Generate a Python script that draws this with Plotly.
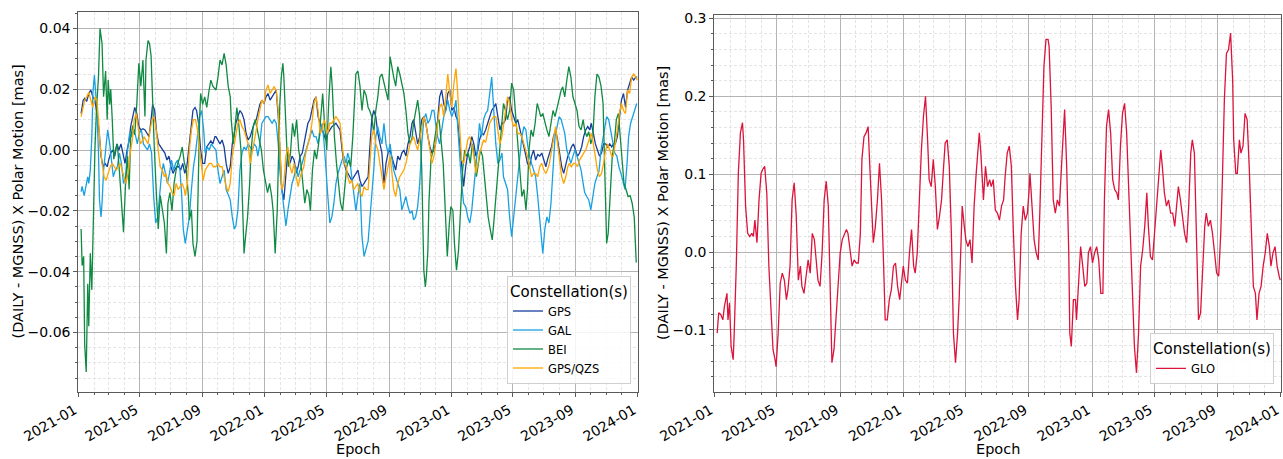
import pandas as pd
import plotly.graph_objects as go

# ---------------- data: (days since 2021-01-01, value in mas) ----------------
EPOCH0 = "2021-01-01"

gps = [(5,0.012),(9,0.0164),(12,0.017),(16,0.016),(20,0.0186),(24,0.0197),(28,0.0175),(32,0.0164),(36,0.012),(40,0.0066),(44,-0.002),(48,-0.0055),(52,-0.0044),(56,-0.0055),(59,-0.0033),(63,-0.001),(67,0.0),(71,-0.002),(75,0.002),(79,0.0),(83,0.002),(87,-0.001),(91,-0.0044),(95,0.0),(99,0.003),(102,0.0077),(106,0.011),(110,0.014),(114,0.012),(118,0.0077),(122,0.0066),(126,0.007),(130,0.0066),(134,0.0055),(138,0.0044),(142,0.010),(145,0.015),(149,0.013),(153,0.0055),(157,0.002),(161,0.001),(165,0.0),(169,-0.001),(173,-0.0033),(177,-0.002),(181,-0.0055),(185,-0.0077),(188,-0.0066),(192,-0.0055),(196,-0.0055),(200,-0.0066),(204,-0.0044),(208,-0.0077),(212,-0.0055),(216,0.001),(220,0.0088),(224,0.013),(228,0.014),(231,0.013),(235,0.0088),(239,0.0),(243,-0.0044),(247,-0.0044),(251,0.001),(255,0.002),(259,0.003),(263,0.002),(267,0.0044),
       (269,0.0044),(273,0.0033),(277,0.002),(281,0.0033),(285,0.001),(289,-0.0044),(293,-0.0077),(297,-0.0055),(301,0.002),(305,0.0055),(308,0.0088),(312,0.011),(316,0.013),(320,0.012),(324,0.010),(328,0.0055),(332,0.0033),(336,0.0044),(340,0.0066),(344,0.0088),(348,0.010),(351,0.012),(355,0.015),(359,0.0164),(363,0.0153),(367,0.0175),(371,0.0186),(375,0.0164),(379,0.0175),(383,0.0186),(387,0.0197),(391,0.011),(394,-0.001),(398,-0.013),(402,-0.0164),(406,-0.0066),(410,0.0),(414,-0.0044),(418,-0.002),(422,-0.0033),(426,-0.0077),(430,-0.0055),(434,-0.002),(438,-0.001),(441,0.002),(445,0.0055),(449,0.0088),(453,0.010),(457,0.013),(461,0.0164),(465,0.0175),(469,0.011),(473,0.0088),(477,0.0066),(481,0.0044),(484,0.0033),(488,0.0055),(492,0.0066),(496,0.0077),(500,0.0082),(504,0.0088),(508,0.0077),(512,0.0066),(516,0.0),(520,-0.0044),(524,-0.0066),(527,-0.0077),(531,-0.0088),(535,-0.010),(539,-0.0088),
       (547,-0.0066),(551,-0.010),(555,-0.012),(559,-0.011),(563,-0.010),(567,-0.0088),(570,0.0),(574,0.010),(578,0.013),(582,0.011),(586,0.0055),(590,0.002),(594,-0.001),(598,-0.011),(602,-0.0044),(606,-0.001),(610,0.0),(613,-0.002),(617,-0.0044),(621,-0.0066),(625,-0.002),(629,-0.0033),(633,-0.001),(637,0.0),(641,-0.002),(645,0.002),(649,0.0044),(653,0.0088),(656,0.010),(660,0.0066),(664,0.002),(668,0.0044),(672,0.010),(676,0.011),(680,0.0088),(684,0.0044),(688,0.001),(692,-0.001),(696,0.0),(699,0.002),(703,0.010),(707,0.0175),(711,0.0197),(715,0.0153),(719,0.013),(723,0.0186),(727,0.0197),(731,0.013),(735,0.014),(739,0.011),(742,0.010),(746,0.002),(750,-0.0044),(754,-0.012),(758,-0.0055),(762,-0.001),(766,0.001),(770,0.0044),(774,0.002),(778,-0.002),(782,0.0),(785,0.0033),(789,0.0055),(793,0.005),(797,0.0066),(801,0.0088),(805,0.011),(809,0.013),(813,0.014),
       (817,0.0153),(821,0.011),(825,0.0066),(829,0.0088),(832,0.0088),(836,0.010),(840,0.0164),(844,0.0175),(848,0.013),(852,0.011),(856,0.0088),(860,0.010),(864,0.0066),(868,0.0033),(872,0.001),(876,-0.002),(879,-0.0044),(883,-0.0055),(887,-0.002),(891,0.0),(895,-0.0033),(899,-0.0015),(903,-0.002),(907,-0.001),(911,-0.0033),(915,-0.0055),(918,-0.0033),(922,-0.001),(926,0.001),(930,0.0044),(934,0.0066),(938,0.0033),(942,-0.002),(946,-0.0055),(950,-0.0077),(954,-0.0044),(958,-0.002),(961,-0.001),(965,0.001),(969,0.002),(973,0.0),(977,-0.002),(981,-0.001),(985,0.001),(989,0.0044),(993,0.0066),(997,0.0077),(1001,0.0066),(1004,0.0088),(1008,0.0055),(1012,0.002),(1016,0.0),(1020,-0.002),(1024,-0.001),(1028,0.002),(1032,0.002),(1036,0.001),(1040,0.002),(1044,0.001),(1047,0.002),(1051,0.002),(1055,0.0044),(1059,0.010),(1063,0.0164),(1067,0.0186),(1071,0.014),(1075,0.0197),(1079,0.022),(1083,0.024),(1087,0.023),(1091,0.024),(1094,0.024)]

gal = [(5,-0.0137),(7,-0.012),(11,-0.015),(15,-0.011),(18,-0.0088),(20,-0.011),(23,-0.0066),(26,0.0044),(28,0.0186),(31,0.0247),(33,0.021),(36,0.013),(39,-0.001),(41,-0.0164),(44,-0.022),(46,-0.0175),(49,-0.0066),(53,0.0),(57,0.0066),(61,0.002),(65,-0.0055),(68,-0.0088),(72,-0.0066),(76,-0.0055),(80,-0.001),(84,-0.0044),(88,-0.011),(92,-0.0088),(96,0.0),(100,0.0055),(104,0.0044),(108,0.0066),(112,0.0044),(115,0.002),(119,0.0055),(123,0.0066),(127,0.002),(131,0.001),(135,0.0),(139,0.002),(143,-0.001),(147,-0.015),(151,-0.024),(155,-0.022),(158,-0.0164),(162,-0.0088),(166,-0.0044),(170,-0.0077),(174,-0.011),(178,-0.0077),(182,-0.0033),(186,-0.0066),(190,-0.0044),(194,-0.0033),(198,-0.0055),(202,-0.015),(205,-0.026),(209,-0.0307),(213,-0.026),(217,-0.022),(221,-0.013),(225,-0.0055),(229,-0.001),(233,0.0044),(237,0.011),(241,0.013),(245,0.0066),(248,-0.001),(252,0.001),(256,0.0),(260,0.002),(264,0.001),
       (269,0.0),(273,-0.0066),(277,-0.011),(281,-0.0088),(285,-0.0066),(289,-0.013),(293,-0.015),(297,-0.0164),(301,-0.022),(305,-0.026),(308,-0.025),(312,-0.0197),(316,-0.0066),(320,-0.001),(324,0.001),(328,0.0),(332,0.002),(336,0.001),(340,0.0),(344,0.002),(348,0.001),(351,-0.002),(355,0.002),(359,0.0088),(363,0.010),(367,0.011),(371,0.011),(375,0.010),(379,0.0088),(383,0.010),(387,0.0088),(391,0.002),(394,-0.0066),(398,-0.013),(402,-0.0186),(406,-0.025),(410,-0.0197),(414,-0.015),(418,-0.011),(422,-0.0088),(426,-0.0055),(430,-0.0088),(434,-0.0066),(438,-0.0044),(441,-0.002),(445,0.0),(449,0.002),(453,0.0044),(457,0.0066),(461,0.0044),(465,0.0044),(469,0.002),(473,0.0055),(477,0.0088),(481,0.002),(484,-0.0066),(488,-0.015),(492,-0.024),(496,-0.022),(500,-0.0175),(504,-0.011),(508,-0.0077),(512,-0.0055),(516,-0.0033),(520,-0.002),(524,-0.0044),(527,-0.001),(531,-0.0033),(535,-0.0088),(539,-0.015),(543,-0.020),(547,-0.015),(551,-0.011),(555,-0.0285),(559,-0.035),
       (567,-0.030),(570,-0.024),(574,-0.015),(578,-0.0066),(582,0.0044),(586,0.0077),(590,0.0044),(594,0.002),(598,0.0088),(602,0.002),(606,-0.001),(610,0.002),(613,-0.002),(617,-0.0066),(621,-0.0088),(625,-0.011),(629,-0.013),(633,-0.0197),(637,-0.0175),(641,-0.0153),(645,-0.0186),(649,-0.0208),(653,-0.020),(656,-0.023),(660,-0.022),(664,-0.0186),(668,-0.011),(672,0.002),(676,0.010),(680,0.012),(684,0.0088),(688,0.010),(692,0.013),(696,0.013),(699,0.0088),(703,0.0044),(707,0.002),(711,0.0066),(715,0.011),(719,0.013),(723,0.0164),(727,0.013),(731,0.011),(735,0.013),(739,0.0164),(742,0.0088),(746,-0.002),(750,-0.011),(754,-0.0175),(758,-0.0186),(762,-0.022),(766,-0.024),(770,-0.0197),(774,-0.013),(778,-0.0066),(782,0.002),(785,0.0088),(789,0.0044),(793,0.010),(797,0.012),(801,0.013),(805,0.0197),(809,0.024),
       (817,0.002),(821,-0.0044),(825,-0.0033),(829,-0.001),(832,-0.0088),(836,-0.011),(840,-0.013),(844,-0.022),(848,-0.0285),(852,-0.022),(856,-0.0153),(860,-0.0066),(864,-0.002),(868,0.0044),(872,0.0077),(876,0.0066),(879,0.002),(883,-0.002),(887,-0.0044),(891,-0.0066),(895,-0.0088),(899,-0.0153),(903,-0.024),(907,-0.0307),(909,-0.034),(913,-0.026),(917,-0.022),(921,-0.024),(925,-0.0175),(929,-0.0066),(933,0.0044),(937,0.0077),(941,0.011),(945,0.010),(948,0.0077),(952,0.0055),(956,0.0),(960,-0.002),(964,-0.0044),(968,-0.002),(972,0.0),(976,-0.002),(980,-0.0044),(984,-0.0066),(988,-0.011),(991,-0.014),(995,-0.0153),(999,-0.0164),(1003,-0.0197),(1007,-0.0153),(1011,-0.011),(1015,-0.0088),(1019,-0.007),(1023,0.0),(1027,0.0044),(1031,0.0088),(1034,0.011),(1038,0.010),(1042,0.0066),(1046,0.002),(1050,-0.001),(1054,-0.002),(1058,-0.0055),(1062,-0.0077),(1066,-0.010),(1070,-0.013),(1074,-0.0044),(1077,0.0044),(1081,0.0088),(1085,0.011),(1089,0.013),(1093,0.0153)]

bei = [(5,-0.026),(7,-0.038),(10,-0.035),(12,-0.064),(15,-0.073),(18,-0.044),(20,-0.058),(23,-0.034),(26,-0.046),(29,-0.0175),(32,0.0),(35,0.013),(39,0.024),(42,0.040),(46,0.035),(49,0.0175),(53,0.026),(56,0.010),(58,0.023),(61,0.015),(63,0.020),(66,0.010),(69,-0.003),(72,0.0),(76,0.002),(80,-0.007),(84,-0.0175),(88,-0.027),(92,-0.011),(96,-0.002),(99,-0.013),(102,0.004),(106,0.008),(110,0.005),(114,0.015),(118,0.0285),(122,0.021),(126,0.0296),(130,0.011),(132,0.0296),(136,0.036),(139,0.035),(142,0.031),(145,0.015),(148,0.002),(152,-0.013),(156,-0.026),(160,-0.015),(164,-0.019),(168,-0.024),(172,-0.034),(175,-0.0175),(179,-0.014),(183,-0.020),(187,-0.011),(191,-0.0066),(195,-0.004),(199,-0.002),(203,0.001),(207,-0.004),(211,-0.0066),(215,-0.015),(217,-0.023),(221,-0.0197),(224,-0.0307),(228,-0.035),(232,-0.030),(234,-0.009),(237,0.010),(239,0.0186),(243,0.015),(247,0.0175),(251,0.014),(255,0.019),(259,0.023),(263,0.021),(267,0.020),
       (269,0.0197),(273,0.024),(277,0.0296),(281,0.028),(285,0.0318),(289,0.028),(293,0.021),(297,0.0175),(299,0.010),(303,0.002),(307,0.0088),(310,0.014),(314,0.008),(318,0.0),(320,-0.012),(324,-0.034),(327,-0.0285),(331,-0.022),(335,-0.011),(338,0.0),(342,0.0077),(346,0.010),(350,0.0066),(354,0.003),(358,0.0),(362,-0.0066),(366,-0.011),(370,-0.014),(374,-0.011),(378,-0.015),(381,-0.020),(385,-0.034),(389,-0.020),(392,0.0),(394,0.015),(397,0.024),(400,0.0285),(402,0.024),(405,0.011),(408,0.0),(411,-0.0055),(415,-0.001),(419,0.0088),(423,0.0044),(427,0.010),(431,0.0),(435,-0.004),(439,-0.011),(443,-0.0175),(447,-0.013),(451,-0.015),(454,-0.020),(458,-0.0066),(462,0.0),(466,-0.003),(470,0.002),(474,0.012),(478,0.0186),(482,0.0077),(486,0.0),(490,0.0164),(494,0.0274),(497,0.020),(501,0.0044),(505,-0.0044),(509,-0.012),(513,-0.0175),(517,-0.020),(521,-0.013),(525,-0.0055),(529,-0.0033),(533,-0.0055),(537,0.0044),(540,0.013),
       (543,0.025),(547,0.026),(551,0.021),(555,0.013),(559,0.0197),(563,0.018),(567,0.014),(570,0.013),(574,0.011),(578,0.0055),(582,0.013),(586,0.0175),(590,0.024),(594,0.025),(598,0.022),(602,0.0197),(606,0.0164),(610,0.0307),(613,0.0274),(617,0.024),(621,0.021),(625,0.0274),(629,0.025),(633,0.022),(637,0.0186),(641,0.013),(645,0.0055),(649,0.002),(653,0.004),(656,0.0088),(660,0.013),(664,0.0164),(668,0.011),(672,-0.0066),(676,-0.0395),(679,-0.045),(681,-0.0416),(684,-0.033),(686,-0.0175),(690,-0.0033),(694,0.0),(698,0.0044),(702,0.0088),(706,0.010),(710,0.002),(714,-0.0044),(718,-0.0197),(722,-0.035),(726,-0.024),(729,-0.0186),(733,-0.020),(736,-0.0307),(740,-0.0395),(744,-0.033),(748,-0.0197),(752,-0.0066),(756,0.0),(759,-0.002),(763,-0.001),(767,-0.0044),(771,0.002),(775,-0.002),(779,-0.0088),(783,-0.0044),(787,0.0),(791,-0.002),(795,-0.0088),(798,-0.015),(802,-0.022),(806,-0.026),(810,-0.0296),(814,-0.022),
       (817,-0.0153),(821,-0.0066),(825,0.002),(829,0.010),(832,0.0153),(836,0.013),(840,0.010),(844,0.013),(848,0.022),(852,0.0197),(856,0.011),(860,0.0),(864,-0.0066),(868,-0.0153),(872,-0.013),(876,-0.0197),(879,-0.013),(882,0.0),(886,0.0066),(890,0.0044),(894,0.0088),(898,0.0153),(902,0.013),(905,0.011),(909,0.012),(913,0.0088),(917,0.0066),(921,0.0044),(925,0.0088),(929,0.013),(933,0.011),(937,0.014),(941,0.0175),(945,0.0197),(948,0.0208),(952,0.0175),(956,0.023),(960,0.0274),(964,0.024),(968,0.0175),(972,0.0153),(976,0.013),(980,0.0077),(984,0.0066),(988,0.010),(991,0.0066),(995,0.0044),(999,0.006),(1003,0.002),(1007,0.0044),(1011,0.0175),(1015,0.025),(1019,0.024),(1023,0.021),(1027,0.0153),(1031,-0.0088),(1034,-0.0307),(1037,-0.0274),(1041,-0.0153),(1045,-0.002),(1049,0.002),(1053,0.010),(1057,0.012),(1061,0.0044),(1064,-0.002),(1068,-0.011),(1072,-0.013),(1076,-0.0153),(1080,-0.015),(1084,-0.0175),(1088,-0.022),(1092,-0.037)]

qzs = [(5,0.011),(9,0.014),(12,0.0164),(16,0.0175),(20,0.019),(24,0.0164),(28,0.014),(32,0.0175),(36,0.0164),(39,0.010),(42,0.002),(46,-0.0044),(50,-0.0088),(54,-0.010),(58,-0.0077),(62,-0.0055),(66,-0.0044),(70,-0.0055),(74,-0.0066),(78,-0.0055),(82,-0.0044),(85,-0.0066),(89,-0.0088),(93,-0.011),(97,-0.0077),(101,-0.001),(105,0.003),(109,0.010),(113,0.012),(117,0.0066),(121,0.002),(125,0.003),(128,0.0044),(132,0.0033),(136,0.002),(140,0.0066),(144,0.010),(148,0.011),(152,0.0066),(156,0.0),(160,-0.0055),(164,-0.0066),(168,-0.0088),(171,-0.0077),(175,-0.011),(179,-0.012),(183,-0.014),(187,-0.015),(191,-0.011),(195,-0.013),(199,-0.012),(203,-0.011),(207,-0.013),(209,-0.015),(213,-0.011),(217,0.0),(221,0.0066),(225,0.010),(229,0.010),(233,0.0066),(237,0.0),(241,-0.0055),(244,-0.010),(248,-0.0066),(252,-0.0055),(256,-0.0044),(260,-0.0044),(264,-0.0055),
       (269,-0.0055),(273,-0.0044),(277,-0.0055),(281,-0.0055),(285,-0.0088),(289,-0.012),(293,-0.0137),(297,-0.011),(301,-0.002),(305,0.002),(308,0.0044),(312,0.0088),(316,0.010),(320,0.0077),(324,0.0066),(328,0.0044),(332,0.002),(336,-0.0044),(340,-0.001),(344,0.0033),(348,0.0066),(351,0.010),(355,0.013),(359,0.0164),(363,0.0153),(367,0.0197),(371,0.0214),(375,0.0186),(379,0.0197),(383,0.0208),(387,0.0197),(391,0.013),(394,0.002),(398,-0.013),(402,-0.011),(406,-0.002),(410,0.001),(414,-0.0055),(418,-0.0077),(422,-0.0044),(426,-0.0088),(430,-0.012),(434,-0.0088),(438,-0.0066),(441,-0.0055),(445,-0.001),(449,0.002),(453,0.0044),(457,0.0088),(461,0.0153),(465,0.0175),(469,0.013),(473,0.0055),(477,0.0066),(481,0.010),(484,0.0077),(488,0.0055),(492,0.0088),(496,0.0088),(500,0.010),(504,0.011),(508,0.010),(512,0.0088),(516,0.002),(520,-0.0044),(524,-0.0055),(527,-0.0088),(531,-0.011),(535,-0.010),(539,-0.013),
       (547,-0.011),(551,-0.014),(555,-0.0153),(559,-0.012),(563,-0.013),(567,-0.013),(570,-0.0055),(574,0.0044),(578,0.0066),(582,0.002),(586,0.0),(590,-0.0044),(594,-0.010),(598,-0.013),(602,-0.0088),(606,-0.0055),(610,-0.002),(613,-0.0066),(617,-0.013),(621,-0.0153),(625,-0.011),(629,-0.0088),(633,-0.0077),(637,-0.0066),(641,-0.0044),(645,-0.001),(649,0.002),(653,0.0033),(656,0.0044),(660,0.002),(664,0.0),(668,0.0033),(672,0.0077),(676,0.011),(680,0.0088),(684,0.0044),(688,-0.001),(692,-0.0044),(696,-0.002),(699,0.002),(703,0.0077),(707,0.014),(711,0.0153),(715,0.011),(719,0.0175),(723,0.025),(727,0.0186),(731,0.014),(735,0.022),(739,0.0268),(742,0.0197),(746,0.0066),(750,-0.0033),(754,-0.0044),(758,0.0),(762,0.0033),(766,0.0044),(770,0.002),(774,-0.002),(778,-0.0077),(782,-0.0044),(785,-0.001),(789,0.001),(793,0.0033),(797,0.0025),(801,0.0055),(805,0.0088),(809,0.010),(813,0.011),
       (817,0.011),(821,0.0066),(825,0.002),(829,0.0044),(832,0.0088),(836,0.013),(840,0.0175),(844,0.0153),(848,0.010),(852,0.0077),(856,0.0088),(860,0.0055),(864,0.0055),(868,0.0044),(872,0.002),(876,0.0),(879,-0.002),(883,-0.0055),(887,-0.0088),(891,-0.0077),(895,-0.0077),(899,-0.0088),(903,-0.0055),(907,-0.0044),(911,-0.0066),(915,-0.0077),(918,-0.0066),(922,-0.0044),(926,0.0),(930,0.0044),(934,0.0077),(938,0.002),(942,-0.0044),(946,-0.0088),(950,-0.011),(954,-0.0088),(958,-0.0055),(961,-0.0044),(965,-0.0055),(969,-0.0044),(973,-0.0044),(977,-0.0055),(981,-0.0033),(985,-0.002),(989,-0.001),(993,0.0),(997,0.002),(1001,0.0044),(1004,0.0055),(1008,0.002),(1012,-0.002),(1016,-0.0066),(1020,-0.0088),(1024,-0.0077),(1028,-0.0044),(1032,0.0),(1036,0.002),(1040,0.0),(1044,-0.002),(1047,-0.002),(1051,0.002),(1055,0.0066),(1059,0.012),(1063,0.0153),(1067,0.013),(1071,0.012),(1075,0.0197),(1079,0.0186),(1083,0.024),(1087,0.025),(1091,0.024),(1094,0.023)]

glo = [(5,-0.104),(8,-0.078),(12,-0.080),(16,-0.087),(19,-0.070),(21,-0.061),(24,-0.053),(26,-0.087),(29,-0.065),(32,-0.121),(36,-0.138),(38,-0.104),(42,-0.018),(46,0.101),(50,0.153),(54,0.166),(56,0.144),(60,0.059),(64,0.024),(68,0.020),(72,0.024),(75,0.020),(78,0.041),(82,0.012),(86,0.067),(90,0.101),(93,0.106),(97,0.110),(101,0.076),(105,-0.018),(109,-0.078),(113,-0.125),(117,-0.138),(119,-0.147),(123,-0.104),(127,-0.040),(131,-0.027),(135,-0.036),(139,-0.061),(142,-0.048),(146,-0.018),(150,0.067),(154,0.089),(158,0.046),(162,-0.036),(166,-0.018),(169,-0.044),(173,-0.053),(177,-0.031),(181,-0.010),(185,-0.027),(189,0.024),(193,0.016),(197,-0.018),(200,-0.036),(204,-0.044),(208,-0.001),(212,0.067),(216,0.091),(220,0.059),(224,-0.040),(227,-0.142),(231,-0.125),(235,-0.083),(239,-0.044),(243,-0.001),(247,0.016),(251,0.024),(255,0.029),(258,0.024),(262,-0.001),(266,-0.018),(270,-0.010),(274,-0.014),(278,-0.014),(282,0.024),(285,0.119),(289,0.148),(293,0.153),(297,0.161),(300,0.114),(303,0.059),(307,0.012),(311,0.033),(315,0.067),(319,0.114),(323,0.067),(327,-0.018),(330,-0.087),(334,-0.087),(338,-0.061),(342,-0.048),(346,-0.018),(350,-0.014),(354,-0.044),(358,-0.061),(361,-0.044),(365,-0.018),(369,-0.036),(373,-0.040),(377,-0.001),(381,0.029),(385,-0.018),(388,-0.027),(392,-0.001),(396,0.067),(400,0.131),(404,0.174),(408,0.200),(412,0.144),(415,0.093),(419,0.084),(423,0.119),(427,0.084),(431,0.029),(435,0.046),(439,0.067),(443,0.110),(446,0.140),(450,0.144),(454,0.110),(458,0.024),(462,-0.104),(466,-0.142),(470,-0.104),(473,-0.061),
       (479,0.059),(483,0.033),(486,0.016),(490,0.007),(494,0.016),(498,-0.014),(502,0.059),(506,0.101),(510,0.136),(512,0.153),(515,0.127),(517,0.101),(520,0.067),(524,0.110),(528,0.084),(532,0.093),(535,0.084),(539,0.093),(543,0.054),(547,0.050),(551,0.041),(555,0.059),(559,0.067),(562,0.097),(566,0.127),(570,0.136),(574,0.110),(578,0.024),(582,-0.044),(586,-0.087),(589,-0.061),(593,0.024),(597,0.059),(601,0.041),(605,0.050),(608,0.076),(610,0.101),(614,0.059),(618,0.016),(622,-0.001),(626,-0.010),(629,0.050),(633,0.153),(637,0.238),(641,0.273),(645,0.273),(647,0.264),(651,0.187),(655,0.067),(659,0.050),(663,0.067),(667,0.059),(671,0.110),(675,0.161),(677,0.183),(681,0.110),(685,-0.001),(687,-0.104),(690,-0.121),(694,-0.061),(698,-0.061),(700,-0.087),(704,-0.044),(708,0.007),(712,-0.018),(716,-0.044),(720,-0.040),(723,-0.001),(727,0.007),(731,-0.014),(735,-0.001),(739,0.007),(743,-0.010),(747,-0.053),(751,-0.053),(754,0.067),(758,0.161),(762,0.183),(766,0.153),(770,0.093),(774,0.080),(778,0.076),(781,0.067),(785,0.136),(789,0.178),(793,0.191),(797,0.153),(801,0.076),(805,-0.001),(808,-0.044),(812,-0.121),(816,-0.155),(820,-0.104),(824,-0.018),(828,0.003),(832,0.033),(836,0.076),(839,0.033),(843,-0.006),(847,-0.010),(851,0.024),(855,0.059),(859,0.101),(863,0.131),(866,0.110),(870,0.076),(874,0.059),(878,0.067),(882,0.050),(886,0.050),(890,0.033),(894,0.059),(897,0.084),(901,0.067),(905,0.041),(909,0.024),(913,0.012),(917,0.059),(921,0.127),(924,0.144),(928,0.127),(932,0.024),(936,-0.087),(940,-0.078),(944,-0.018),(948,0.033),(951,0.050),(955,0.033),(959,0.041),(963,0.024),(967,-0.001),(971,-0.027),(975,-0.031),(979,0.024),(982,0.089),(986,0.196),(990,0.255),(994,0.260),(998,0.281),(1002,0.221),(1004,0.144),(1008,0.101),(1011,0.101),(1015,0.144),(1018,0.127),(1022,0.136),(1026,0.178),(1030,0.170),(1034,0.110),(1038,0.024),(1042,-0.044),(1046,-0.053),(1049,-0.087),(1053,-0.053),(1057,-0.044),(1061,-0.018),(1065,-0.001),(1069,0.024),(1073,0.007),(1076,-0.018),(1080,-0.001),(1084,0.007),(1088,-0.018),(1092,-0.031),(1094,-0.036)]

left_series = [("GPS", gps), ("GAL", gal), ("BEI", bei), ("GPS/QZS", qzs)]
right_series = [("GLO", glo)]

left_yticks = [-0.06, -0.04, -0.02, 0.00, 0.02, 0.04]
right_yticks = [-0.1, 0.0, 0.1, 0.2, 0.3]

# ---------------- styling ----------------
W, H = 1283, 459
COLORS = {"GPS": "#173f9b", "GAL": "#18a1e2", "BEI": "#0f8a42",
          "GPS/QZS": "#ffa500", "GLO": "#dc143c"}
FONT = "DejaVu Sans"
SPINE = "#5a5a5a"
GRID_MAJOR = "#b4b4b4"
GRID_MINOR = "#e4e4e4"
MINOR_DASH = "3px,2px"


def to_xy(points):
    days, vals = zip(*points)
    dates = pd.Timestamp(EPOCH0) + pd.to_timedelta(list(days), unit="D")
    return dates, list(vals)


fig = go.Figure()
for name, pts in left_series:
    x, y = to_xy(pts)
    fig.add_trace(go.Scatter(x=x, y=y, mode="lines", name=name,
                             line=dict(color=COLORS[name], width=1.3),
                             xaxis="x", yaxis="y", legend="legend"))
for name, pts in right_series:
    x, y = to_xy(pts)
    fig.add_trace(go.Scatter(x=x, y=y, mode="lines", name=name,
                             line=dict(color=COLORS[name], width=1.3),
                             xaxis="x2", yaxis="y2", legend="legend2"))


def xaxis(domain, rng, anchor):
    return dict(domain=domain, anchor=anchor, type="date", range=rng, automargin=False,
                tickformat="%Y-%m", dtick="M4", tick0="2021-01-01", tickangle=-30,
                ticklabeloverflow="allow", ticklabelshift=-4,
                ticks="outside", ticklen=4, tickwidth=1, tickcolor=SPINE,
                showline=True, linecolor=SPINE, linewidth=1, mirror=True,
                showgrid=True, gridcolor=GRID_MAJOR, gridwidth=1, zeroline=False,
                tickfont=dict(family=FONT, size=14, color="black"),
                minor=dict(dtick="M1", showgrid=True, gridcolor=GRID_MINOR,
                           griddash=MINOR_DASH, gridwidth=1, ticks="outside",
                           ticklen=2, tickcolor=SPINE))


def yaxis(domain, rng, ticks, fmt, minor_dtick, anchor):
    return dict(domain=domain, anchor=anchor, range=rng, automargin=False,
                tickmode="array", tickvals=ticks, tickformat=fmt,
                ticks="outside", ticklen=4, tickwidth=1, tickcolor=SPINE,
                showline=True, linecolor=SPINE, linewidth=1, mirror=True,
                showgrid=True, gridcolor=GRID_MAJOR, gridwidth=1, zeroline=False,
                tickfont=dict(family=FONT, size=14, color="black"),
                minor=dict(dtick=minor_dtick, tick0=0, showgrid=True, gridcolor=GRID_MINOR,
                           griddash=MINOR_DASH, gridwidth=1, ticks="outside",
                           ticklen=2, tickcolor=SPINE))


yb = 1 - 391.7 / H
legend_common = dict(xanchor="right", yanchor="bottom",
                     bgcolor="rgba(255,255,255,0.85)", bordercolor="#cfcfcf", borderwidth=1,
                     font=dict(family=FONT, size=11.5, color="black"),
                     title=dict(text="Constellation(s)", side="top center",
                                font=dict(family=FONT, size=15, color="black")))
fig.update_layout(
    width=W, height=H, margin=dict(l=0, r=0, t=0, b=0, autoexpand=False),
    paper_bgcolor="white", plot_bgcolor="white",
    font=dict(family=FONT, color="black"),
    showlegend=True,
    xaxis=xaxis([78.3 / W, 638.3 / W], ["2020-12-31 12:00", "2024-01-02"], "y"),
    yaxis=yaxis([yb, 1 - 12.3 / H], [-0.0795, 0.0453], left_yticks, ".2f", 0.005, "x"),
    xaxis2=xaxis([714.3 / W, 1281 / W], ["2020-12-31 12:00", "2024-01-01 12:00"], "y2"),
    yaxis2=yaxis([yb, 1 - 15.3 / H], [-0.1792, 0.3039], right_yticks, ".1f", 0.02, "x2"),
    legend=dict(x=631 / W, y=1 - 384 / H, **legend_common),
    legend2=dict(x=1274 / W, y=1 - 384.3 / H, **legend_common),
    annotations=[
        dict(text="(DAILY - MGNSS) X Polar Motion [mas]", textangle=-90,
             x=17.5 / W, y=1 - 202 / H, xref="paper", yref="paper",
             xanchor="center", yanchor="middle", showarrow=False,
             font=dict(family=FONT, size=14.5, color="black")),
        dict(text="(DAILY - MGNSS) X Polar Motion [mas]", textangle=-90,
             x=662.5 / W, y=1 - 203.5 / H, xref="paper", yref="paper",
             xanchor="center", yanchor="middle", showarrow=False,
             font=dict(family=FONT, size=14.5, color="black")),
        dict(text="Epoch", x=358.3 / W, y=1 - 449 / H, xref="paper", yref="paper",
             xanchor="center", yanchor="middle", showarrow=False,
             font=dict(family=FONT, size=14.5, color="black")),
        dict(text="Epoch", x=997.6 / W, y=1 - 449 / H, xref="paper", yref="paper",
             xanchor="center", yanchor="middle", showarrow=False,
             font=dict(family=FONT, size=14.5, color="black")),
    ],
)

fig.write_html("out.html")
